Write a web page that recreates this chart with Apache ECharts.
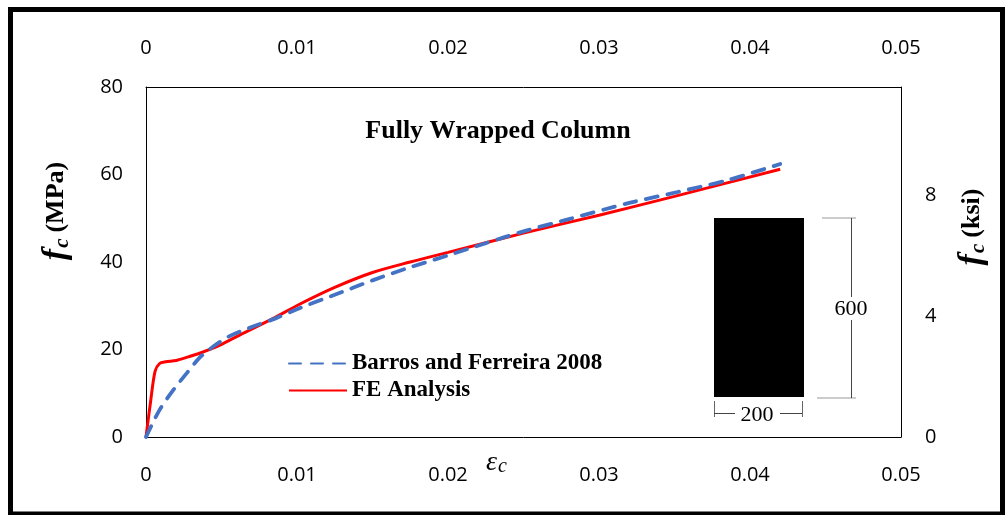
<!DOCTYPE html>
<html>
<head>
<meta charset="utf-8">
<script src="https://cdn.jsdelivr.net/npm/echarts@6/dist/echarts.min.js"></script>
<style>html,body{margin:0;padding:0;background:#fff}#c{width:1008px;height:515px}</style>
</head>
<body>
<div id="c"></div>
<script>
// ---- data (strain, stress MPa) ----
const barrosStrain = [0, 0.0009, 0.0018, 0.0027, 0.0036, 0.0045, 0.0055, 0.0069, 0.0085, 0.0102, 0.0125, 0.015, 0.0175, 0.02, 0.0225, 0.025, 0.028, 0.032, 0.0352, 0.0385, 0.042];
const barrosStress = [0, 6.2, 10.7, 14.6, 18.3, 20.8, 23.0, 25.0, 27.0, 29.5, 32.5, 35.8, 38.8, 41.5, 44.3, 47.0, 49.8, 53.5, 56.0, 58.7, 62.4];
const feStrain = [0, 0.0003, 0.0006, 0.0009, 0.0013, 0.002, 0.0028, 0.0036, 0.0049, 0.0062, 0.0082, 0.0102, 0.0125, 0.015, 0.0175, 0.02, 0.025, 0.03, 0.035, 0.042];
const feStress = [0, 8.0, 15.0, 16.8, 17.2, 17.5, 18.3, 19.2, 21.0, 23.3, 26.7, 30.4, 34.2, 37.6, 40.0, 42.2, 46.6, 50.7, 55.0, 61.2];
const seriesNames = ['Barros and Ferreira 2008', 'FE Analysis'];
const xTickLabels = ['0', '0.01', '0.02', '0.03', '0.04', '0.05'];
const yTickLabels = ['0', '20', '40', '60', '80'];
const ksiTickLabels = ['0', '4', '8'];
const MPA_PER_KSI = 6.895;

const pair = (xs, ys) => xs.map((x, i) => [x, ys[i]]);
const tickFont = {fontFamily: 'Open Sans', fontSize: 20, color: '#000'};
const xLabel = v => xTickLabels[Math.round(v / 0.01)] ?? '';
const serif = 'Liberation Serif';
const nameRich = {
  f: {fontFamily: serif, fontStyle: 'italic', fontWeight: 'bold', fontSize: 34, color: '#000'},
  s: {fontFamily: serif, fontStyle: 'italic', fontWeight: 'bold', fontSize: 21, color: '#000', verticalAlign: 'bottom', padding: [0, 6, 0, 1]},
  m: {fontFamily: serif, fontWeight: 'bold', fontSize: 26, color: '#000'}
};

const chart = echarts.init(document.getElementById('c'), null, {renderer: 'canvas'});
chart.setOption({
  animation: false,
  backgroundColor: '#fff',
  grid: {left: 146, right: 107, top: 87, bottom: 78, containLabel: false},
  title: {
    text: 'Fully Wrapped Column', left: 493, top: 113, textAlign: 'center',
    textStyle: {fontFamily: serif, fontWeight: 'bold', fontSize: 26, color: '#000'}
  },
  legend: {
    orient: 'vertical', left: 288, top: 352, padding: 0, itemWidth: 58, itemHeight: 14, itemGap: 4,
    data: seriesNames,
    itemStyle: {opacity: 0},
    textStyle: {fontFamily: serif, fontWeight: 'bold', fontSize: 23, color: '#000'}
  },
  xAxis: [{
    type: 'value', position: 'bottom', min: 0, max: 0.05, interval: 0.01,
    axisLine: {show: true, lineStyle: {color: '#000', width: 1}}, axisTick: {show: false}, splitLine: {show: false},
    axisLabel: Object.assign({margin: 28, formatter: xLabel}, tickFont),
    name: '{e|ε}{s|c}', nameLocation: 'middle', nameGap: 12, nameMoveOverlap: false,
    nameTextStyle: {padding: [0, 54, 0, 0], rich: {
      e: {fontFamily: serif, fontStyle: 'italic', fontSize: 28, color: '#000'},
      s: {fontFamily: serif, fontStyle: 'italic', fontSize: 20, color: '#000', verticalAlign: 'bottom', padding: [0, 0, 0, 1]}
    }}
  }, {
    type: 'value', position: 'top', min: 0, max: 0.05, interval: 0.01,
    axisLine: {show: true, onZero: false, lineStyle: {color: '#000', width: 1}}, axisTick: {show: false}, splitLine: {show: false},
    axisLabel: Object.assign({margin: 29, formatter: xLabel}, tickFont)
  }],
  yAxis: [{
    type: 'value', position: 'left', min: 0, max: 80, interval: 20,
    axisLine: {show: true, lineStyle: {color: '#000', width: 1}}, axisTick: {show: false}, splitLine: {show: false},
    axisLabel: Object.assign({margin: 23, padding: [4, 0, 0, 0], formatter: v => yTickLabels[v / 20]}, tickFont),
    name: '{f|f}{s|c}{m|(MPa)}', nameLocation: 'middle', nameGap: 73, nameRotate: 90, nameMoveOverlap: false,
    nameTextStyle: {padding: [0, 0, 0, 102], rich: nameRich}
  }, {
    type: 'value', position: 'right', min: 0, max: 80 / MPA_PER_KSI, interval: 4,
    axisLine: {show: true, onZero: false, lineStyle: {color: '#000', width: 1}}, axisTick: {show: false}, splitLine: {show: false},
    axisLabel: Object.assign({margin: 24, padding: [4, 0, 0, 0], showMaxLabel: false, formatter: v => ksiTickLabels[v / 4] ?? ''}, tickFont),
    name: '{f|f}{s|c}{m|(ksi)}', nameLocation: 'middle', nameGap: 54, nameRotate: 90, nameMoveOverlap: false,
    nameTextStyle: {padding: [0, 0, 0, 70], rich: nameRich}
  }],
  series: [{
    name: seriesNames[0], type: 'line', xAxisIndex: 0, yAxisIndex: 0,
    data: pair(barrosStrain, barrosStress), symbol: 'none', smooth: 0.3, z: 3,
    lineStyle: {color: '#4472C4', width: 3.8, type: [12, 10], cap: 'round'}, itemStyle: {color: '#4472C4'}
  }, {
    name: seriesNames[1], type: 'line', xAxisIndex: 0, yAxisIndex: 0,
    data: pair(feStrain, feStress), symbol: 'none', smooth: 0.3, z: 2,
    lineStyle: {color: '#FF0000', width: 3}, itemStyle: {color: '#FF0000'}
  }],
  graphic: [
    {type: 'rect', shape: {x: 10.5, y: 9.5, width: 992, height: 504.5}, style: {fill: 'none', stroke: '#000', lineWidth: 5}, z: 100, silent: true},
    {type: 'rect', shape: {x: 714, y: 218, width: 90, height: 179}, style: {fill: '#000'}, z: 50},
    {type: 'line', shape: {x1: 822, y1: 218, x2: 856, y2: 218}, style: {stroke: '#999', lineWidth: 1}, z: 50},
    {type: 'line', shape: {x1: 817, y1: 398, x2: 856, y2: 398}, style: {stroke: '#999', lineWidth: 1}, z: 50},
    {type: 'line', shape: {x1: 851.5, y1: 218, x2: 851.5, y2: 297}, style: {stroke: '#444', lineWidth: 1}, z: 50},
    {type: 'line', shape: {x1: 851.5, y1: 320, x2: 851.5, y2: 398}, style: {stroke: '#444', lineWidth: 1}, z: 50},
    {type: 'text', x: 851, y: 309, style: {text: '600', fontFamily: serif, fontSize: 22, fill: '#000', align: 'center', verticalAlign: 'middle'}, z: 50},
    {type: 'line', shape: {x1: 714.5, y1: 401, x2: 714.5, y2: 417}, style: {stroke: '#666', lineWidth: 1}, z: 50},
    {type: 'line', shape: {x1: 802.5, y1: 401, x2: 802.5, y2: 417}, style: {stroke: '#666', lineWidth: 1}, z: 50},
    {type: 'line', shape: {x1: 714, y1: 413.5, x2: 735, y2: 413.5}, style: {stroke: '#444', lineWidth: 1}, z: 50},
    {type: 'line', shape: {x1: 780, y1: 413.5, x2: 802, y2: 413.5}, style: {stroke: '#444', lineWidth: 1}, z: 50},
    {type: 'text', x: 757, y: 415, style: {text: '200', fontFamily: serif, fontSize: 22, fill: '#000', align: 'center', verticalAlign: 'middle'}, z: 50}
  ]
});
</script>
</body>
</html>
